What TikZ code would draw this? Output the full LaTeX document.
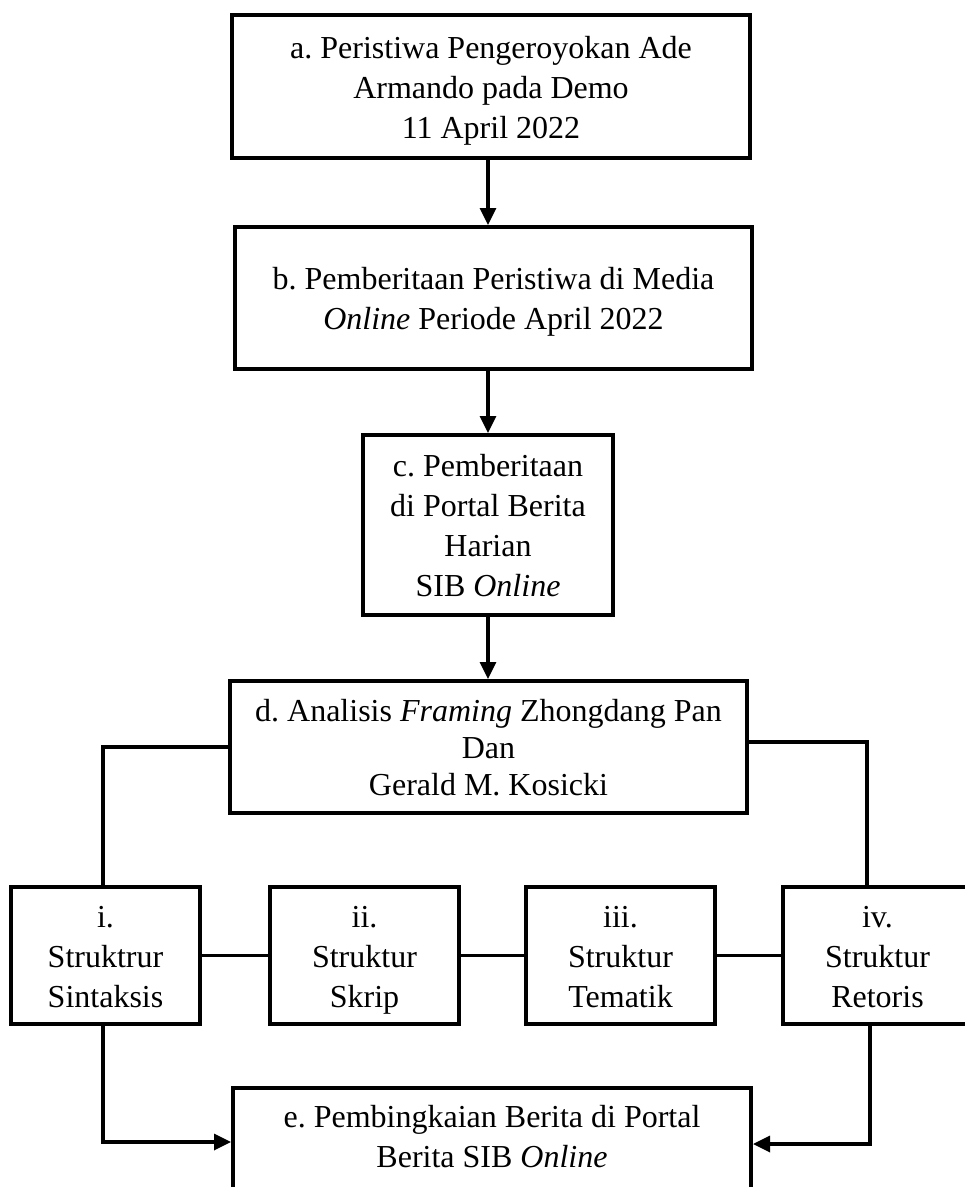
\documentclass[tikz,border=0pt]{standalone}
\usepackage{fontspec}
\setmainfont{Liberation Serif}
\frenchspacing
\usetikzlibrary{arrows.meta,calc}
\newcommand\mystrut{\rule[-7pt]{0pt}{37pt}}
\begin{document}
\begin{tikzpicture}[x=1pt,y=-1pt,
  txt/.style={inner sep=0pt,align=center,font=\fontsize{32pt}{40pt}\selectfont},
  box/.style={txt,draw,line width=4pt,rectangle},
  conn/.style={line width=3.3pt},
  arr/.style={conn,-{Triangle[length=17pt,width=16pt]}}]
\useasboundingbox (0,0) rectangle (965,1187);
\clip (0,0) rectangle (965,1187);
\node[box,minimum width=518pt,minimum height=143pt] (a) at (491,86.5)
  {\mystrut a. Peristiwa Pengeroyokan Ade\\Armando pada Demo\\\mystrut 11 April 2022};
\node[box,minimum width=517pt,minimum height=142pt] (b) at (493.5,298)
  {\mystrut b. Pemberitaan Peristiwa di Media\\\mystrut\textit{Online} Periode April 2022};
\node[box,minimum width=250pt,minimum height=180pt] (c) at (488,525)
  {\mystrut c. Pemberitaan\\di Portal Berita\\Harian\\\mystrut SIB \textit{Online}};
\node[box,minimum width=517pt,minimum height=132pt,font=\fontsize{32pt}{37pt}\selectfont] (d) at (488.5,747)
  {\mystrut d. Analisis \textit{Framing} Zhongdang Pan\\Dan\\\mystrut Gerald M. Kosicki};
\node[box,minimum width=189pt,minimum height=137pt] (s1) at (105.5,955.5)
  {\mystrut i.\\Struktrur\\\mystrut Sintaksis};
\node[box,minimum width=189pt,minimum height=137pt] (s2) at (364.5,955.5)
  {\mystrut ii.\\Struktur\\\mystrut Skrip};
\node[box,minimum width=189pt,minimum height=137pt] (s3) at (620.5,955.5)
  {\mystrut iii.\\Struktur\\\mystrut Tematik};
\node[box,minimum width=189pt,minimum height=137pt] (s4) at (877.5,955.5)
  {\mystrut iv.\\Struktur\\\mystrut Retoris};
\node[box,minimum width=518pt,minimum height=142pt,anchor=north] (e) at (492,1086) {};
\node[txt,anchor=base] (et) at (492,1167) {e. Pembingkaian Berita di Portal\\Berita SIB \textit{Online}};
% helper coordinates
\coordinate (xl) at (103,0);
\coordinate (xr) at (867,0);
\coordinate (xr2) at (870,0);
\coordinate (yd) at (0,742);
\coordinate (yl) at (0,1142);
\coordinate (yr) at (0,1144);
% vertical flow
\draw[arr] (a.south -| c.center) -- (b.north -| c.center);
\draw[arr] (b.south -| c.center) -- (c.north);
\draw[arr] (c.south) -- (d.north -| c.center);
% branches from d
\draw[conn] (d.west) -| (s1.north -| xl);
\draw[conn] (d.east |- yd) -| (s4.north -| xr);
% horizontal links
\draw[conn] (s1.east) -- (s2.west);
\draw[conn] (s2.east) -- (s3.west);
\draw[conn] (s3.east) -- (s4.west);
% to e
\draw[arr] (s1.south -| xl) |- (e.west |- yl);
\draw[arr] (s4.south -| xr2) |- (e.east |- yr);
\end{tikzpicture}
\end{document}
